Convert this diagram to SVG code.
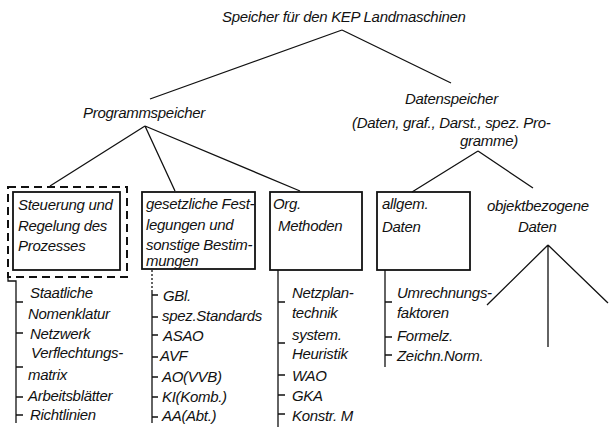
<svg xmlns="http://www.w3.org/2000/svg" width="610" height="433" viewBox="0 0 610 433">
<style>
text{font-family:"Liberation Sans","DejaVu Sans",sans-serif;font-style:italic;font-size:15px;letter-spacing:-0.3px;fill:#111}
.box{fill:none;stroke:#111;stroke-width:1.8}
.dash{fill:none;stroke:#111;stroke-width:2;stroke-dasharray:8 5}
.ln{fill:none;stroke:#111;stroke-width:1.3}
.dot{fill:none;stroke:#111;stroke-width:1.3;stroke-dasharray:2 2}
</style>
<rect width="610" height="433" fill="#fff"/>
<g id="connectors">
<path class="ln" d="M342,30 L150,99 M342,30 L451,83"/>
<path class="ln" d="M145,126 L50,186 M145,126 L175,191 M145,126 L300,191"/>
<path class="ln" d="M478,151 L412,192 M478,151 L533,188"/>
<path class="ln" d="M548,245 L487,305 M548,245 L548,347 M548,245 L608,303"/>
</g>
<g id="root">
<text x="222" y="22">Speicher für den KEP Landmaschinen</text>
</g>
<g id="programmspeicher">
<text x="83" y="118">Programmspeicher</text>
</g>
<g id="datenspeicher">
<text x="405" y="104">Datenspeicher</text>
<text x="352" y="128">(Daten, graf., Darst., spez. Pro-</text>
<text x="460" y="146">gramme)</text>
</g>
<g id="steuerung">
<rect class="dash" x="8" y="187" width="119" height="90"/>
<rect class="box" x="13" y="192" width="107" height="78"/>
<text x="18" y="210">Steuerung und</text>
<text x="18" y="231">Regelung des</text>
<text x="18" y="251">Prozesses</text>
<path class="ln" d="M8,277 V281 H16 V423 M16,302 H23 M16,333 H23 M16,367 H23 M16,397 H23 M16,415 H23"/>
<text x="30" y="298">Staatliche</text>
<text x="28" y="319">Nomenklatur</text>
<text x="30" y="339">Netzwerk</text>
<text x="31" y="358">Verflechtungs-</text>
<text x="28" y="380">matrix</text>
<text x="28" y="401">Arbeitsblätter</text>
<text x="30" y="420">Richtlinien</text>
</g>
<g id="gesetzliche">
<rect class="box" x="142" y="192" width="113" height="77"/>
<text x="146" y="209">gesetzliche Fest-</text>
<text x="146" y="230">legungen und</text>
<text x="146" y="250">sonstige Bestim-</text>
<text x="146" y="266">mungen</text>
<path class="dot" d="M152,270 V290"/>
<path class="ln" d="M152,290 V423 M152,295 H158 M152,317 H158 M152,335 H158 M152,357 H158 M152,377 H158 M152,397 H158 M152,417 H158"/>
<text x="163" y="301">GBl.</text>
<text x="162" y="321">spez.Standards</text>
<text x="163" y="341">ASAO</text>
<text x="160" y="361">AVF</text>
<text x="162" y="382">AO(VVB)</text>
<text x="162" y="402">KI(Komb.)</text>
<text x="162" y="421">AA(Abt.)</text>
</g>
<g id="methoden">
<rect class="box" x="270" y="192" width="92" height="78"/>
<text x="273" y="209">Org.</text>
<text x="278" y="231">Methoden</text>
<path class="ln" d="M278,270 V427 M278,302 H285 M278,343 H285 M278,375 H285 M278,395 H285 M278,414 H285"/>
<text x="292" y="298">Netzplan-</text>
<text x="292" y="318">technik</text>
<text x="292" y="340">system.</text>
<text x="292" y="359">Heuristik</text>
<text x="292" y="381">WAO</text>
<text x="292" y="401">GKA</text>
<text x="292" y="421">Konstr. M</text>
</g>
<g id="allgemein">
<rect class="box" x="377" y="192" width="93" height="78"/>
<text x="382" y="209">allgem.</text>
<text x="382" y="232">Daten</text>
<path class="ln" d="M385,270 V367 M385,302 H392 M385,337 H392 M385,355 H392"/>
<text x="397" y="298">Umrechnungs-</text>
<text x="397" y="318">faktoren</text>
<text x="397" y="341">Formelz.</text>
<text x="397" y="361">Zeichn.Norm.</text>
</g>
<g id="objektbezogen">
<text x="487" y="211">objektbezogene</text>
<text x="518" y="232">Daten</text>
</g>
</svg>
